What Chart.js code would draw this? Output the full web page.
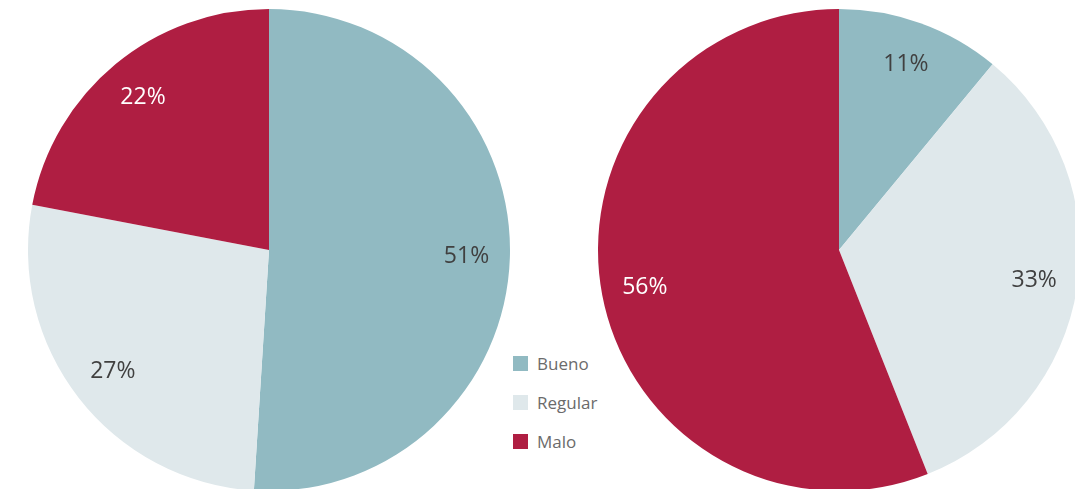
<!DOCTYPE html>
<html>
<head>
<meta charset="utf-8">
<script src="https://cdn.jsdelivr.net/npm/chart.js@4"></script>
<style>
    html, body { margin: 0; padding: 0; background: #ffffff; overflow: hidden; }
    body { width: 1075px; height: 489px; position: relative; font-family: "Open Sans", "Noto Sans", sans-serif; }
    .pie { position: absolute; top: 9px; width: 482px; height: 482px; }
    #leftWrap { left: 28px; }
    #rightWrap { left: 598px; }
    #legend { position: absolute; left: 513px; top: 352px; }
    .legend-item { height: 39px; display: flex; align-items: flex-start; font-size: 17px; color: #6b6b6b; }
    .legend-box { width: 15px; height: 15px; margin-right: 9px; margin-top: 4px; }
</style>
</head>
<body>
<div class="pie" id="leftWrap"><canvas id="leftChart"></canvas></div>
<div class="pie" id="rightWrap"><canvas id="rightChart"></canvas></div>
<div id="legend"></div>

<script>
const categories = ['Bueno', 'Regular', 'Malo'];
const colors = ['#91bac2', '#dfe8eb', '#af1e42'];
const labelColors = ['#404040', '#404040', '#ffffff'];
const leftValues = [51, 27, 22];
const rightValues = [11, 33, 56];

// draws the % labels inside each slice
const sliceLabels = {
    id: 'sliceLabels',
    afterDatasetsDraw(chart) {
        const ctx = chart.ctx;
        const meta = chart.getDatasetMeta(0);
        const values = chart.data.datasets[0].data;
        ctx.save();
        ctx.font = '23px "Open Sans", "Noto Sans", sans-serif';
        ctx.textAlign = 'center';
        ctx.textBaseline = 'middle';
        meta.data.forEach((arc, i) => {
            const mid = (arc.startAngle + arc.endAngle) / 2;
            const r = arc.outerRadius * 0.82;
            ctx.fillStyle = labelColors[i];
            ctx.fillText(values[i] + '%', arc.x + Math.cos(mid) * r, arc.y + Math.sin(mid) * r);
        });
        ctx.restore();
    }
};

function makePie(id, values) {
    const ctx = document.getElementById(id).getContext('2d');
    return new Chart(ctx, {
        type: 'pie',
        data: {
            labels: categories,
            datasets: [{
                data: values,
                backgroundColor: colors,
                borderWidth: 0
            }]
        },
        options: {
            responsive: true,
            maintainAspectRatio: false,
            animation: false,
            layout: { padding: 0 },
            plugins: {
                legend: { display: false },
                tooltip: { enabled: false }
            }
        },
        plugins: [sliceLabels]
    });
}

makePie('leftChart', leftValues);
makePie('rightChart', rightValues);

const legend = document.getElementById('legend');
categories.forEach((cat, i) => {
    const div = document.createElement('div');
    div.className = 'legend-item';
    div.innerHTML = `<span class="legend-box" style="background:${colors[i]}"></span><span>${cat}</span>`;
    legend.appendChild(div);
});
</script>
</body>
</html>
